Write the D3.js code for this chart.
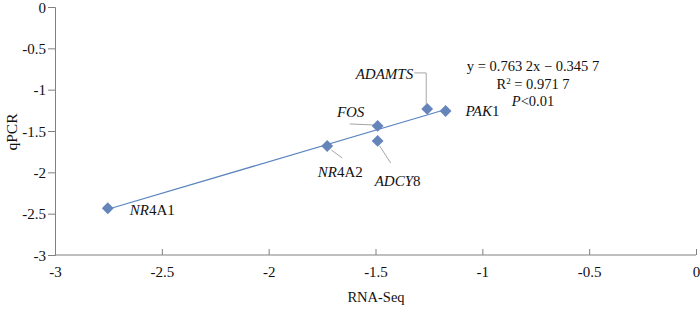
<!DOCTYPE html>
<html>
<head>
  <meta charset="utf-8">
  <script src="https://d3js.org/d3.v7.min.js"></script>
  <style>
    body { margin: 0; background: #fff; }
    svg text { font-family: 'Liberation Serif', 'Times New Roman', 'DejaVu Serif', serif !important; fill: #111; }
    .axis path, .axis line { stroke: #808080; }
    .axis text { font-size: 15px; }
    .leader { stroke: #a6a6a6; stroke-width: 1; fill: none; }
  </style>
</head>
<body>
  <svg id="chart" width="700" height="312" font-family="Liberation Serif"></svg>
  <script>
    // gene labels: italic part + plain part
    const genes = ["NR4A1", "NR4A2", "FOS", "ADCY8", "ADAMTS", "PAK1"];
    const italicPart = ["NR", "NR", "FOS", "ADCY", "ADAMTS", "PAK"];
    const plainPart = ["4A1", "4A2", "", "8", "", "1"];
    const rnaSeq = [-2.753, -1.726, -1.490, -1.490, -1.258, -1.172];
    const qpcr = [-2.434, -1.681, -1.439, -1.620, -1.233, -1.258];
    const slope = 0.7632, intercept = -0.3457;
    const xTicks = [-3, -2.5, -2, -1.5, -1, -0.5, 0];
    const yTicks = [0, -0.5, -1, -1.5, -2, -2.5, -3];

    const svg = d3.select("#chart");
    const x = d3.scaleLinear().domain([-3, 0]).range([55, 696]);
    const y = d3.scaleLinear().domain([-3, 0]).range([255, 7]);
    const fmt = d => String(d);

    // y axis
    svg.append("g").attr("class", "axis")
      .attr("transform", "translate(55,0)")
      .call(d3.axisLeft(y).tickValues(yTicks).tickSize(7).tickPadding(2).tickFormat(fmt))
      .call(g => g.attr("font-family", null).attr("font-size", null))
      .call(g => g.selectAll("text").attr("dy", "0.34em"));

    // x axis (ticks pointing up)
    svg.append("g").attr("class", "axis")
      .attr("transform", "translate(0,255)")
      .call(d3.axisBottom(x).tickValues(xTicks).tickSize(0).tickPadding(11).tickFormat(fmt))
      .call(g => g.attr("font-family", null).attr("font-size", null))
      .call(g => g.selectAll(".tick line").attr("y2", -6))
      .call(g => g.select(".domain").attr("d", "M55,0H696"));

    // axis titles
    svg.append("text").attr("x", 376).attr("y", 302).attr("text-anchor", "middle")
      .style("font-size", "14.5px").text("RNA-Seq");
    svg.append("text").attr("transform", "translate(17,132) rotate(-90)").attr("text-anchor", "middle")
      .style("font-size", "15.5px").text("qPCR");

    // trend line
    const xmin = d3.min(rnaSeq), xmax = d3.max(rnaSeq);
    svg.append("line")
      .attr("x1", x(xmin)).attr("y1", y(slope * xmin + intercept))
      .attr("x2", x(xmax)).attr("y2", y(slope * xmax + intercept))
      .attr("stroke", "#5b84c0").attr("stroke-width", 1.2);

    // leader lines (offsets from points)
    const px = i => x(rnaSeq[i]), py = i => y(qpcr[i]);
    const leaders = [
      null,
      [[px(1) + 4, py(1) + 4], [px(1) + 15, py(1) + 12]],
      [[px(2) - 4, py(2) - 1], [px(2) - 28, py(2) - 2]],
      [[px(3) + 2, py(3) + 5], [px(3) + 13, py(3) + 22]],
      [[px(4) - 1, py(4) - 5], [px(4) - 1, py(4) - 36], [px(4) - 13, py(4) - 36]],
      null
    ];
    svg.selectAll("path.leader").data(leaders.filter(d => d)).join("path")
      .attr("class", "leader")
      .attr("d", d => d3.line()(d));

    // markers
    svg.selectAll("path.pt").data(genes).join("path")
      .attr("class", "pt")
      .attr("d", d3.symbol(d3.symbolSquare, 70))
      .attr("transform", (d, i) => `translate(${px(i)},${py(i)}) rotate(45)`)
      .attr("fill", "#6585ba");

    // gene labels
    const labelPos = [
      [px(0) + 22, py(0) + 7, "start"],
      [px(1) + 13, py(1) + 31, "middle"],
      [px(2) - 27, py(2) - 9, "middle"],
      [px(3) + 20, py(3) + 45, "middle"],
      [px(4) - 14, py(4) - 30, "end"],
      [px(5) + 20, py(5) + 5, "start"]
    ];
    genes.forEach((g, i) => {
      const t = svg.append("text")
        .attr("x", labelPos[i][0]).attr("y", labelPos[i][1])
        .attr("text-anchor", labelPos[i][2])
        .style("font-size", "15px");
      t.append("tspan").style("font-style", "italic").text(italicPart[i]);
      if (plainPart[i]) t.append("tspan").text(plainPart[i]);
    });

    // equation block
    const eq = svg.append("g").attr("transform", "translate(533,0)")
      .style("font-size", "14.5px").attr("text-anchor", "middle");
    eq.append("text").attr("y", 71).text("y = 0.763 2x \u2212 0.345 7");
    const r2 = eq.append("text").attr("y", 89);
    r2.append("tspan").text("R");
    r2.append("tspan").attr("dy", -5).style("font-size", "9px").text("2");
    r2.append("tspan").attr("dy", 5).text(" = 0.971 7");
    const p = eq.append("text").attr("y", 106);
    p.append("tspan").style("font-style", "italic").text("P");
    p.append("tspan").text("<0.01");
  </script>
</body>
</html>
